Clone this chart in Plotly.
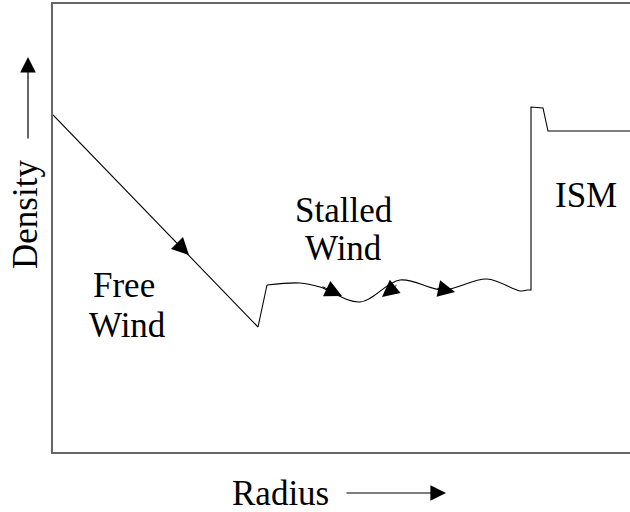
import plotly.graph_objects as go

# Data (x: radius units, y: density units)
free_radius = [0, 205]
free_density = [337, 125]

jump_radius = [205, 214]
jump_density = [125, 167]

stalled_radius = [214, 247, 267, 307, 347, 390, 434, 467, 474]
stalled_density = [167, 169, 165, 150, 172, 162, 173, 161, 162]

ism_radius = [474, 478, 478, 490, 495, 577]
ism_density = [162, 162, 345, 344, 321, 321]

# flow arrows: (tail_x, tail_y, tip_x, tip_y)
flow_arrows = [
    (110, 223, 136, 197),
    (268, 166, 289, 156),
    (345, 168, 329, 155),
    (383, 164, 402, 160),
]

labels = [
    ("Free", 71, 167),
    ("Wind", 74, 127),
    ("Stalled", 291, 242),
    ("Wind", 290, 204),
    ("ISM", 533, 257),
]

X_RANGE = [0, 577]
Y_RANGE = [0, 448]
FONT = "Liberation Serif, Times New Roman, serif"


def px(x):
    return (x - X_RANGE[0]) / (X_RANGE[1] - X_RANGE[0])


def py(y):
    return (y - Y_RANGE[0]) / (Y_RANGE[1] - Y_RANGE[0])


fig = go.Figure()
for xs, ys, shape in [
    (free_radius, free_density, "linear"),
    (jump_radius, jump_density, "linear"),
    (stalled_radius, stalled_density, "spline"),
    (ism_radius, ism_density, "linear"),
]:
    fig.add_trace(go.Scatter(x=xs, y=ys, mode="lines",
                             line=dict(color="black", width=1.1, shape=shape),
                             hoverinfo="skip", showlegend=False))

annotations = []
for tx, ty, hx, hy in flow_arrows:
    annotations.append(dict(x=hx, y=hy, ax=tx, ay=ty, xref="x", yref="y",
                            axref="x", ayref="y", text="", showarrow=True,
                            arrowhead=2, arrowsize=3.4, arrowwidth=1,
                            arrowcolor="black"))

for txt, x, y in labels:
    annotations.append(dict(x=x, y=y, xref="x", yref="y", text=txt,
                            showarrow=False, xanchor="center", yanchor="middle",
                            font=dict(family=FONT, size=35, color="black")))

# axis titles with arrows (outside the plotting area -> paper coordinates)
annotations.append(dict(x=px(-28), y=py(237), xref="paper", yref="paper",
                        text="Density", textangle=-90, showarrow=False,
                        xanchor="center", yanchor="middle",
                        font=dict(family=FONT, size=35, color="black")))
annotations.append(dict(x=px(-25), y=py(395), ax=0, ay=83,
                        xref="paper", yref="paper", axref="pixel",
                        ayref="pixel", text="", showarrow=True,
                        arrowhead=2, arrowsize=2.6, arrowwidth=1.2,
                        arrowcolor="black"))
annotations.append(dict(x=px(227), y=py(-41), xref="paper", yref="paper",
                        text="Radius", showarrow=False, xanchor="center",
                        yanchor="middle",
                        font=dict(family=FONT, size=35, color="black")))
annotations.append(dict(x=px(393), y=py(-41), ax=-101, ay=0,
                        xref="paper", yref="paper", axref="pixel",
                        ayref="pixel", text="", showarrow=True,
                        arrowhead=2, arrowsize=2.6, arrowwidth=1.2,
                        arrowcolor="black"))

fig.update_layout(
    width=630, height=512,
    margin=dict(l=53, r=0, t=4, b=60),
    plot_bgcolor="white", paper_bgcolor="white",
    annotations=annotations,
    xaxis=dict(range=X_RANGE, showgrid=False, zeroline=False,
               showticklabels=False, ticks="", showline=True, mirror=True,
               linecolor="#666666", linewidth=2, fixedrange=True),
    yaxis=dict(range=Y_RANGE, showgrid=False, zeroline=False,
               showticklabels=False, ticks="", showline=True, mirror=False,
               linecolor="#666666", linewidth=2, fixedrange=True),
)

fig.write_html("out.html",
               config={"displayModeBar": False},
               post_script="document.body.style.margin='0';"
                           "document.body.style.overflow='hidden';")
